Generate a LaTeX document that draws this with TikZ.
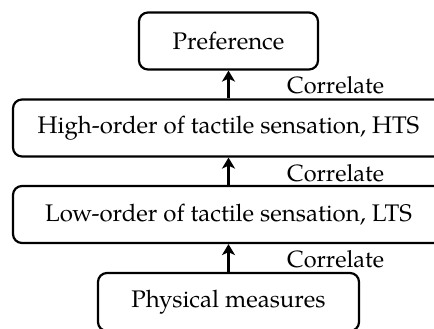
\documentclass[tikz,border=0pt]{standalone}
\usepackage{fontspec}
\setmainfont{TeX Gyre Pagella}
\usetikzlibrary{arrows.meta}
\tikzset{
  box/.style={draw, line width=2.2pt, rounded corners=9pt, inner sep=0pt, minimum height=57pt, font=\fontsize{24}{28}\selectfont},
  corr/.style={anchor=base west, inner sep=0pt, font=\fontsize{23.5}{28}\selectfont},
  arr/.style={line width=2.2pt, -{Stealth[length=11pt,width=13pt,inset=3pt]}}
}
\begin{document}
\begin{tikzpicture}[x=1pt,y=1pt]
\path[use as bounding box, clip] (0,0) rectangle (434,-329);
\node[box, minimum width=179pt] (pref) at (228.5,-41) {Preference};
\node[box, minimum width=431pt] (hts) at (228.5,-128) {High-order of tactile sensation, HTS};
\node[box, minimum width=431pt] (lts) at (228.5,-214.5) {Low-order of tactile sensation, LTS};
\node[box, minimum width=261pt, minimum height=58pt] (phys) at (228.5,-302) {Physical measures};
\draw[arr] (hts.north) -- (pref.south);
\draw[arr] (lts.north) -- (hts.south);
\draw[arr] (phys.north) -- (lts.south);
\node[corr] (c1) at (287,-93) {Correlate};
\node[corr] (c2) at (287,-181) {Correlate};
\node[corr] (c3) at (287,-267) {Correlate};
\end{tikzpicture}
\end{document}
